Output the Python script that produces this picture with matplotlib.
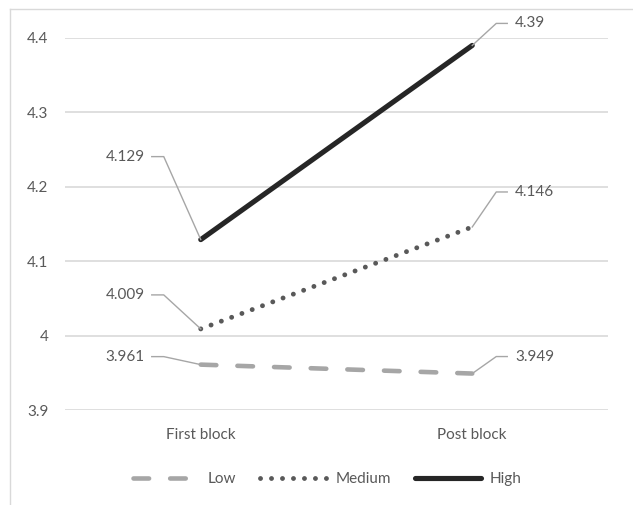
import matplotlib
matplotlib.use("Agg")
import matplotlib.pyplot as plt
from matplotlib.lines import Line2D

categories = ["First block", "Post block"]
series_names = ["Low", "Medium", "High"]
low = [3.961, 3.949]
medium = [4.009, 4.146]
high = [4.129, 4.39]
yticks = [3.9, 4.0, 4.1, 4.2, 4.3, 4.4]
ytick_labels = ["3.9", "4", "4.1", "4.2", "4.3", "4.4"]

plt.rcParams['font.family'] = ['Lato', 'DejaVu Sans']
TXT = "#595959"
FS = 11

fig = plt.figure(figsize=(6.33, 5.05), dpi=100)
ax = fig.add_axes([0.1027, 0.1881, 0.8578, 0.7367])
x = [0.25, 0.75]
ax.set_xlim(0, 1)
ax.set_ylim(3.9, 4.4)

styles = {
    "Low": dict(color="#a6a6a6", lw=3.3, linestyle=(0, (3.4, 4.6)), dash_capstyle="round"),
    "Medium": dict(color="#595959", lw=3.5, linestyle=(0, (0.01, 2.25)), dash_capstyle="round"),
    "High": dict(color="#262626", lw=3.7, solid_capstyle="round"),
}
data = {"Low": low, "Medium": medium, "High": high}
for name in series_names:
    ax.plot(x, data[name], label=name, **styles[name])

ax.set_yticks(yticks)
ax.set_yticklabels(ytick_labels)
ax.set_xticks(x)
ax.set_xticklabels(categories)
ax.tick_params(axis='y', length=0, pad=12, labelsize=FS, labelcolor=TXT)
ax.tick_params(axis='x', length=0, pad=13, labelsize=FS, labelcolor=TXT)
ax.grid(axis='y', color="#d9d9d9", lw=1.2)
ax.set_axisbelow(True)
for s in ax.spines.values():
    s.set_visible(False)

# data labels with leader lines (pixel offsets)
fig.canvas.draw()
offsets = {
    ("High", 0): -83, ("Medium", 0): -34, ("Low", 0): -8,
    ("High", 1): 22, ("Medium", 1): 35, ("Low", 1): 17,
}
for name in series_names:
    vals = data[name]
    for i, v in enumerate(vals):
        px, py = ax.transData.transform((x[i], v))
        dy = offsets[(name, i)]
        if i == 0:
            ty = py + abs(dy)
            pts = [(px, py), (px - 37, ty), (px - 49, ty)]
            tx, ha = px - 56, "right"
        else:
            ty = py + dy
            pts = [(px, py), (px + 24, ty), (px + 35, ty)]
            tx, ha = px + 43, "left"
        fig.add_artist(Line2D([p[0] for p in pts], [p[1] for p in pts],
                              transform=None, color="#a6a6a6", lw=1.0))
        lab = ("%.3f" % v).rstrip("0")
        fig.text(tx, ty, lab, transform=None, ha=ha, va="center",
                 fontsize=FS, color=TXT)

leg = fig.legend(loc="center", bbox_to_anchor=(0.517, 0.0515), ncol=3, frameon=False,
                 handlelength=4.3, columnspacing=1.6, handletextpad=0.6, fontsize=FS)
for t in leg.get_texts():
    t.set_color(TXT)

# chart border (top and left visible)
fig.add_artist(Line2D([10/633, 10/633], [0, 1 - 9/505], transform=fig.transFigure, color="#d9d9d9", lw=1.0))
fig.add_artist(Line2D([10/633, 632/633], [1 - 9/505, 1 - 9/505], transform=fig.transFigure, color="#d9d9d9", lw=1.0))

fig.savefig("out.png", dpi=100)
